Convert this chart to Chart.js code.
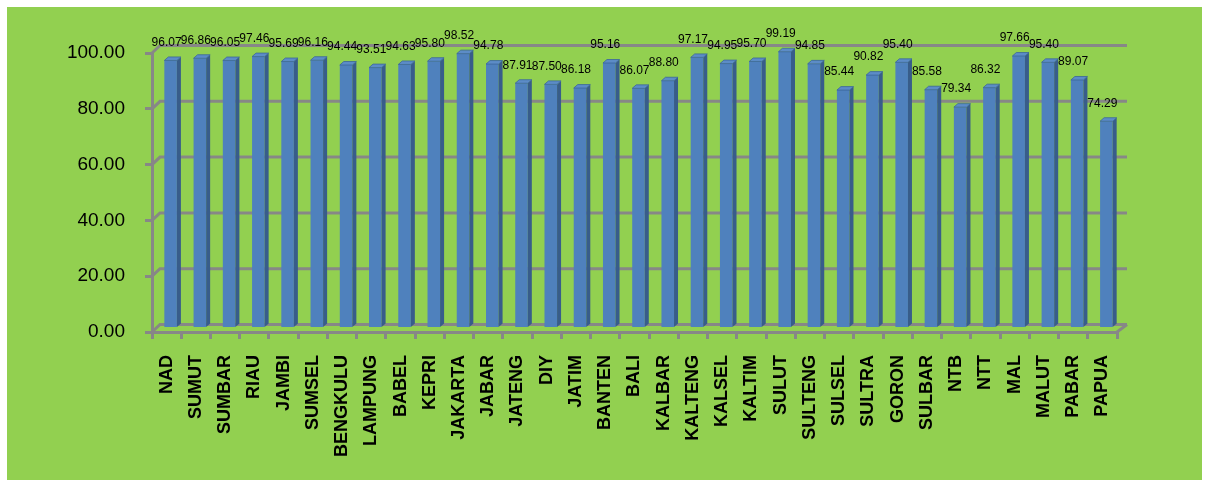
<!DOCTYPE html>
<html>
<head>
<meta charset="utf-8">
<script src="https://cdn.jsdelivr.net/npm/chart.js@4/dist/chart.umd.min.js"></script>
<style>
  html, body { margin: 0; padding: 0; background: #ffffff; }
  #wrap { position: absolute; left: 7px; top: 7px; width: 1195px; height: 473px; background: #92D050; }
  canvas { display: block; }
</style>
</head>
<body>
<div id="wrap"><canvas id="c" width="1195" height="473"></canvas></div>
<script>
const categories = ["NAD","SUMUT","SUMBAR","RIAU","JAMBI","SUMSEL","BENGKULU","LAMPUNG","BABEL","KEPRI","JAKARTA","JABAR","JATENG","DIY","JATIM","BANTEN","BALI","KALBAR","KALTENG","KALSEL","KALTIM","SULUT","SULTENG","SULSEL","SULTRA","GORON","SULBAR","NTB","NTT","MAL","MALUT","PABAR","PAPUA"];
const values = [96.07,96.86,96.05,97.46,95.69,96.16,94.44,93.51,94.63,95.80,98.52,94.78,87.91,87.50,86.18,95.16,86.07,88.80,97.17,94.95,95.70,99.19,94.85,85.44,90.82,95.40,85.58,79.34,86.32,97.66,95.40,89.07,74.29];
const yMin = 0, yMax = 100, yStep = 20;

const GRID = '#878787';
const DEPTH_X = 8, DEPTH_Y = 7.5;   // back wall offset
const BAR_DX = 4, BAR_DY = 3.5;     // bar depth offset

const threeD = {
  id: 'threeD',
  beforeDatasetsDraw(chart) {
    const ctx = chart.ctx, a = chart.chartArea, y = chart.scales.y;
    ctx.save();
    ctx.strokeStyle = GRID;
    ctx.lineWidth = 3;
    y.ticks.forEach(t => {
      const yf = y.getPixelForValue(t.value);
      const yb = yf - DEPTH_Y;
      ctx.beginPath();
      ctx.moveTo(a.left, yf);
      ctx.lineTo(a.left + DEPTH_X, yb);
      ctx.lineTo(a.right + DEPTH_X + 2, yb);
      ctx.stroke();
    });
    ctx.beginPath();
    ctx.moveTo(a.right, a.bottom);
    ctx.lineTo(a.right + DEPTH_X + 2, a.bottom - DEPTH_Y);
    ctx.stroke();
    ctx.restore();
    ctx.save();
    ctx.translate(BAR_DX, -BAR_DY);
  },
  afterDatasetsDraw(chart) {
    const ctx = chart.ctx;
    const meta = chart.getDatasetMeta(0);
    meta.data.forEach(bar => {
      const p = bar.getProps(['x','y','base','width'], true);
      const l = p.x - p.width / 2, r = p.x + p.width / 2;
      const d = 4, dv = 3.5;
      ctx.fillStyle = '#385D8A';
      ctx.beginPath();
      ctx.moveTo(r, p.y);
      ctx.lineTo(r + d, p.y - dv);
      ctx.lineTo(r + d, p.base - dv);
      ctx.lineTo(r, p.base);
      ctx.closePath();
      ctx.fill();
      ctx.fillStyle = '#5C8CC7';
      ctx.beginPath();
      ctx.moveTo(l, p.y);
      ctx.lineTo(l + d, p.y - dv);
      ctx.lineTo(r + d, p.y - dv);
      ctx.lineTo(r, p.y);
      ctx.closePath();
      ctx.fill();
      ctx.strokeStyle = '#3B6699';
      ctx.lineWidth = 0.8;
      ctx.stroke();
    });
    ctx.restore();
    ctx.save();
    ctx.fillStyle = '#000';
    ctx.font = '12px "Liberation Sans", Arial, sans-serif';
    ctx.textAlign = 'center';
    ctx.textBaseline = 'middle';
    meta.data.forEach((bar, i) => {
      const p = bar.getProps(['x','y'], true);
      ctx.fillText(values[i].toFixed(2), p.x, p.y - 21.5);
    });
    ctx.restore();
  }
};

new Chart(document.getElementById('c'), {
  type: 'bar',
  data: {
    labels: categories,
    datasets: [{
      data: values,
      backgroundColor: '#4F81BD',
      borderWidth: 0,
      barPercentage: 0.43,
      categoryPercentage: 1.0
    }]
  },
  options: {
    responsive: false,
    animation: false,
    devicePixelRatio: 1,
    layout: { padding: { left: 0, right: 85, top: 46, bottom: 0 } },
    plugins: { legend: { display: false }, tooltip: { enabled: false } },
    scales: {
      x: {
        type: 'category',
        offset: true,
        afterFit(s) { s.height = 148; },
        grid: { offset: true, drawOnChartArea: false, drawTicks: true, tickLength: 7, color: GRID, lineWidth: 3 },
        border: { display: true, color: GRID, width: 3 },
        ticks: {
          minRotation: 90, maxRotation: 90, autoSkip: false, padding: 16,
          color: '#000',
          font: { family: '"Liberation Sans", Arial, sans-serif', size: 18, weight: 'bold' }
        }
      },
      y: {
        min: yMin, max: yMax,
        afterFit(s) { s.width = 145; },
        grid: { drawOnChartArea: false, drawTicks: true, tickLength: 7, color: GRID, lineWidth: 3 },
        border: { display: true, color: GRID, width: 3 },
        ticks: {
          stepSize: yStep, padding: 20, color: '#000',
          font: { family: '"Liberation Sans", Arial, sans-serif', size: 19 },
          callback: v => Number(v).toFixed(2)
        }
      }
    }
  },
  plugins: [threeD]
});
</script>
</body>
</html>
